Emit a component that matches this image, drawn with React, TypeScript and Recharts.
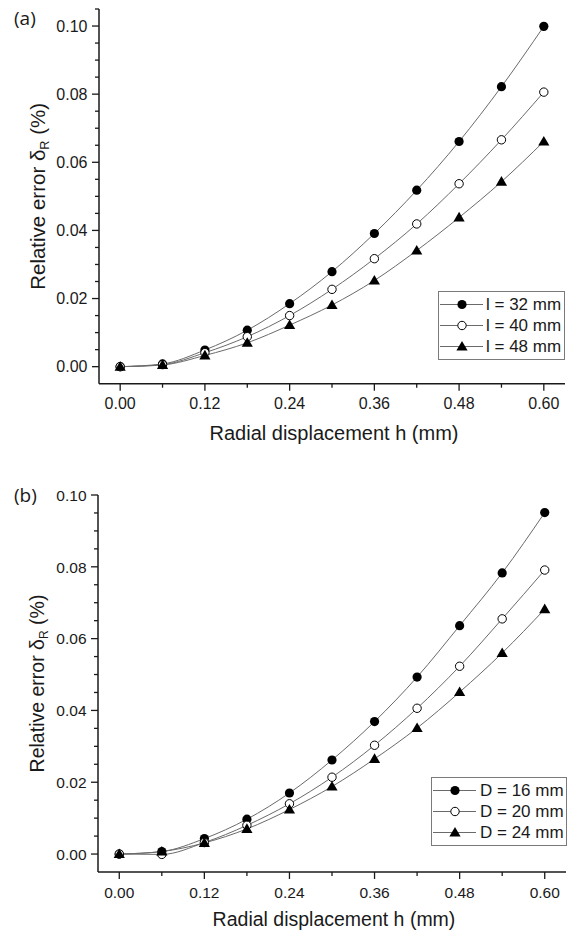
import React from 'react';
import { LineChart, Line, XAxis, YAxis, Legend } from 'recharts';

// ---- data ----
const hValues = [0, 0.06, 0.12, 0.18, 0.24, 0.3, 0.36, 0.42, 0.48, 0.54, 0.6];
const l32 = [0, 0.0008, 0.0049, 0.0107, 0.0185, 0.0279, 0.0391, 0.0518, 0.0661, 0.0822, 0.0999];
const l40 = [0, 0.0006, 0.0041, 0.0088, 0.015, 0.0227, 0.0317, 0.0419, 0.0537, 0.0666, 0.0806];
const l48 = [0, 0.0005, 0.0033, 0.007, 0.0122, 0.0181, 0.0253, 0.0341, 0.0438, 0.0543, 0.0661];
const d16 = [0, 0.0007, 0.0043, 0.0097, 0.017, 0.0262, 0.0369, 0.0493, 0.0636, 0.0783, 0.0951];
const d20 = [0, -0.0001, 0.0032, 0.008, 0.014, 0.0214, 0.0303, 0.0406, 0.0523, 0.0655, 0.0791];
const d24 = [0, 0.0007, 0.0031, 0.007, 0.0124, 0.0188, 0.0265, 0.0351, 0.0451, 0.056, 0.0682];

const namesA = ['l = 32 mm', 'l = 40 mm', 'l = 48 mm'];
const namesB = ['D = 16 mm', 'D = 20 mm', 'D = 24 mm'];

const xTicks = [0, 0.06, 0.12, 0.18, 0.24, 0.3, 0.36, 0.42, 0.48, 0.54, 0.6];
const yTicksA = [0, 0.005, 0.01, 0.015, 0.02, 0.025, 0.03, 0.035, 0.04, 0.045, 0.05, 0.055, 0.06, 0.065, 0.07, 0.075, 0.08, 0.085, 0.09, 0.095, 0.1, 0.105];
const yTicksB = [0, 0.005, 0.01, 0.015, 0.02, 0.025, 0.03, 0.035, 0.04, 0.045, 0.05, 0.055, 0.06, 0.065, 0.07, 0.075, 0.08, 0.085, 0.09, 0.095, 0.1];

const xTitle = 'Radial displacement h (mm)';

const dataA = hValues.map((h, i) => ({ h, s1: l32[i], s2: l40[i], s3: l48[i] }));
const dataB = hValues.map((h, i) => ({ h, s1: d16[i], s2: d20[i], s3: d24[i] }));

const FONT = '"Liberation Sans", Arial, sans-serif';
const INK = '#1a1a1a';
const LINE = '#6a6a6a';

// ---- markers ----
const FilledDot = (p: any) => (
  <circle key={`f-${p.index}`} cx={p.cx} cy={p.cy} r={4.6} fill="#000" />
);
const OpenDot = (p: any) => (
  <circle key={`o-${p.index}`} cx={p.cx} cy={p.cy} r={4.2} fill="#fff" stroke="#000" strokeWidth={1} />
);
const TriDot = (p: any) => (
  <polygon
    key={`t-${p.index}`}
    points={`${p.cx},${p.cy - 5.6} ${p.cx - 5.6},${p.cy + 4} ${p.cx + 5.6},${p.cy + 4}`}
    fill="#000"
  />
);
const markers = [FilledDot, OpenDot, TriDot];

// ---- ticks ----
const XTick = (props: any) => {
  const { x, y, payload, fs } = props;
  const v = payload.value as number;
  const major = Math.round(v / 0.06) % 2 === 0;
  return (
    <g>
      <line x1={x} x2={x} y1={y} y2={y + (major ? 7 : 4)} stroke={INK} strokeWidth={1.3} />
      {major && (
        <text x={x} y={y + 25.5} textAnchor="middle" fontSize={fs} fill={INK} fontFamily={FONT}>
          {v.toFixed(2)}
        </text>
      )}
    </g>
  );
};

const YTick = (props: any) => {
  const { x, y, payload, fs } = props;
  const v = payload.value as number;
  const major = Math.round(v / 0.005) % 4 === 0;
  return (
    <g>
      <line x1={x} x2={x - (major ? 7 : 4)} y1={y} y2={y} stroke={INK} strokeWidth={1.3} />
      {major && (
        <text x={x - 11.5} y={y + 5.8} textAnchor="end" fontSize={fs} fill={INK} fontFamily={FONT}>
          {v.toFixed(2)}
        </text>
      )}
    </g>
  );
};

const makeYLabel = (baseX: number, fs: number) => (props: any) => {
  const vb = props.viewBox || {};
  const cx = (vb.x || 0) + baseX;
  const cy = (vb.y || 0) + (vb.height || 0) / 2;
  return (
    <text
      x={cx}
      y={cy}
      transform={`rotate(-90, ${cx}, ${cy})`}
      textAnchor="middle"
      fontSize={fs}
      fill={INK}
      fontFamily={FONT}
    >
      Relative error δ<tspan fontSize={fs * 0.62} dy={4}>R</tspan>
      <tspan dy={-4}> (%)</tspan>
    </text>
  );
};

const makeXLabel = (offset: number, fs: number) => (props: any) => {
  const vb = props.viewBox || {};
  const cx = (vb.x || 0) + (vb.width || 0) / 2 + 2;
  const cy = (vb.y || 0) + offset;
  return (
    <text x={cx} y={cy} textAnchor="middle" fontSize={fs} fill={INK} fontFamily={FONT}>
      {xTitle}
    </text>
  );
};

// ---- legend ----
const LegendBox = ({ names, svgW, markerX, gap }: { names: string[]; svgW: number; markerX: number; gap: number }) => (
  <div
    style={{
      border: '1px solid #7a7a7a',
      background: '#fff',
      boxSizing: 'border-box',
      padding: '2px 2px 2px 1px',
      fontFamily: FONT,
      fontSize: 17,
      color: INK,
    }}
  >
    {names.map((n, i) => {
      const M = markers[i];
      return (
        <div key={n} style={{ display: 'flex', alignItems: 'center', height: 21, whiteSpace: 'nowrap' }}>
          <svg width={svgW} height={21} style={{ display: 'block', flex: 'none' }}>
            <line x1={0} x2={svgW} y1={10.5} y2={10.5} stroke={LINE} strokeWidth={1} />
            <M cx={markerX} cy={10.5} index={i} />
          </svg>
          <span style={{ marginLeft: gap, lineHeight: '21px' }}>{n}</span>
        </div>
      );
    })}
  </div>
);

const Panel = ({
  data,
  names,
  height,
  margin,
  yWidth,
  xHeight,
  yDomain,
  yTicks,
  legendPos,
  legendW,
  svgW,
  markerX,
  gap,
  yLabelX,
  tickFs,
  titleFs,
  yLabelFs,
  titleOffset,
}: any) => (
  <LineChart width={571} height={height} data={data} margin={margin}>
    <XAxis
      type="number"
      dataKey="h"
      domain={[-0.03, 0.63]}
      ticks={xTicks}
      interval={0}
      tickSize={0}
      tickMargin={0}
      tick={<XTick fs={tickFs} />}
      axisLine={{ stroke: INK, strokeWidth: 1.5 }}
      tickLine={false}
      height={xHeight}
      allowDataOverflow
      label={makeXLabel(titleOffset, titleFs)}
    />
    <YAxis
      type="number"
      domain={yDomain}
      ticks={yTicks}
      interval={0}
      tickSize={0}
      tickMargin={0}
      tick={<YTick fs={tickFs} />}
      axisLine={{ stroke: INK, strokeWidth: 1.5 }}
      tickLine={false}
      width={yWidth}
      allowDataOverflow
      label={makeYLabel(yLabelX, yLabelFs)}
    />
    <Legend
      layout="horizontal"
      align="center"
      verticalAlign="middle"
      wrapperStyle={{ position: 'absolute', left: legendPos[0], top: legendPos[1], width: legendW, margin: 0 }}
      content={() => <LegendBox names={names} svgW={svgW} markerX={markerX} gap={gap} />}
    />
    {['s1', 's2', 's3'].map((k, i) => {
      const M = markers[i];
      return (
        <Line
          key={k}
          type="monotone"
          dataKey={k}
          name={names[i]}
          stroke={LINE}
          strokeWidth={1}
          dot={(p: any) => <M key={`${k}-${p.index}`} {...p} />}
          activeDot={false}
          isAnimationActive={false}
        />
      );
    })}
  </LineChart>
);

export default function App() {
  return (
    <div style={{ position: 'absolute', left: 0, top: 0, width: 571, height: 931, background: '#fff' }}>
      <div style={{ position: 'absolute', left: 0, top: 0 }}>
        <Panel
          data={dataA}
          names={namesA}
          height={460}
          margin={{ top: 9, right: 6, left: 0, bottom: 16 }}
          yWidth={99}
          xHeight={60.3}
          yDomain={[-0.005, 0.105]}
          yTicks={yTicksA}
          legendPos={[438, 291]}
          legendW={127}
          svgW={43}
          markerX={22}
          gap={3}
          yLabelX={45}
          tickFs={16}
          titleFs={20}
          yLabelFs={20.5}
          titleOffset={56}
        />
      </div>
      <div style={{ position: 'absolute', left: 0, top: 460 }}>
        <Panel
          data={dataB}
          names={namesB}
          height={471}
          margin={{ top: 35, right: 5, left: 0, bottom: 14 }}
          yWidth={98}
          xHeight={45}
          yDomain={[-0.005, 0.1]}
          yTicks={yTicksB}
          legendPos={[431, 316.7]}
          legendW={136}
          svgW={43}
          markerX={22}
          gap={4}
          yLabelX={44}
          tickFs={15.5}
          titleFs={19.5}
          yLabelFs={19.5}
          titleOffset={54}
        />
      </div>
      <div style={{ position: 'absolute', left: 14, top: 5, fontFamily: '"Open Sans", sans-serif', fontSize: 19, color: INK }}>(a)</div>
      <div style={{ position: 'absolute', left: 14, top: 482, fontFamily: '"Open Sans", sans-serif', fontSize: 19, color: INK }}>(b)</div>
    </div>
  );
}
